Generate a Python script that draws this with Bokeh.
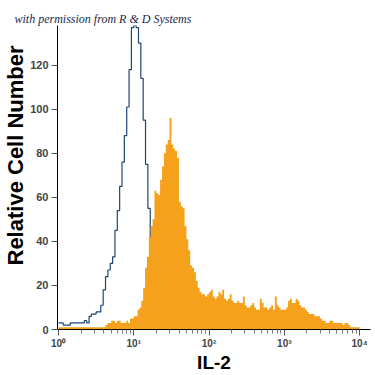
import numpy as np
from bokeh.plotting import figure
from bokeh.models import Range1d, FixedTicker, Title
from bokeh.embed import file_html
from bokeh.resources import INLINE

# ---- data ----
x_ticks = [1, 10, 100, 1000, 10000]
x_tick_labels = ["10⁰", "10¹", "10²", "10³", "10⁴"]
y_ticks = [0, 20, 40, 60, 80, 100, 120]

# isotype control histogram (outline), bins of 1/32 decade starting at 10^0
control_bins_per_decade = 32
control_counts = [3, 3, 2, 2, 2, 3, 3, 3, 3, 3, 3, 4, 3, 6, 7, 7, 8, 8, 11, 18,
                  24, 27, 30, 33, 45, 54, 65, 76, 88, 101, 118, 137, 138, 137, 130, 114, 95, 75, 55, 38,
                  25, 15, 8, 4, 2, 1]

# IL-2 stained histogram (filled), bins of 1/40 decade starting at 10^0
il2_bins_per_decade = 40
il2_counts = [1, 1, 1, 1, 1, 1, 1, 1, 1, 1, 1, 1, 1, 1, 1, 1, 1, 1,
              1, 1, 1, 1, 1, 1, 1, 2,
              3, 3, 4, 4, 3, 4, 4,
              3, 3, 3, 4, 3,
              5, 5, 6,
              6, 9, 10, 13, 19, 28, 33, 42, 47,
              50, 63, 62, 61, 68, 74, 80, 84, 86, 96,
              84, 82, 81, 78, 58, 56, 55, 47, 41, 36,
              29, 28, 26, 22, 19, 17, 16, 16, 15, 16,
              17, 18, 15, 14, 15, 17, 16, 18, 14, 13,
              14, 16, 13, 12, 12, 13, 12, 12, 15, 11,
              10, 10, 11, 12, 10, 9, 9, 14, 12, 10,
              10, 9, 10, 11, 9, 15, 11, 10, 9, 9,
              9, 10, 13, 14, 12, 12, 14, 13, 11, 10,
              10, 9, 8, 7, 7, 7, 6, 6, 6, 5,
              4, 4, 3, 3, 4, 4, 3, 3, 3, 3,
              3, 2, 3, 3, 2, 1, 1, 1, 1, 1]

x_title = "IL-2"
y_title = "Relative Cell Number"
watermark = "with permission from R & D Systems"


def step_xy(counts, per_decade):
    edges = 10 ** (np.arange(len(counts) + 1) / per_decade)
    xs = np.repeat(edges, 2)[1:-1]
    ys = np.repeat(np.asarray(counts, dtype=float), 2)
    return edges, xs, ys


c_edges, c_x, c_y = step_xy(control_counts, control_bins_per_decade)
c_x = np.append(c_x, [c_edges[-1], c_edges[-1] * 10])
c_y = np.append(c_y, [0, 0])

i_edges, i_x, i_y = step_xy(il2_counts, il2_bins_per_decade)

# ---- figure ----
p = figure(width=375, height=375, x_axis_type="log",
           output_backend="svg", toolbar_location=None,
           x_range=Range1d(10 ** -0.0132, 10 ** 4.145), y_range=Range1d(0, 138),
           min_border_left=55, min_border_right=5, min_border_top=25, min_border_bottom=46)
p.outline_line_color = None
p.grid.grid_line_color = None
p.background_fill_color = "white"
p.border_fill_color = "white"

p.line(c_x, c_y, line_color="#1d4673", line_width=1.2)
p.varea(x=i_x, y1=0, y2=i_y, fill_color="#f6a11c", fill_alpha=1.0)

# axes
minor = [m * d for d in [1, 10, 100, 1000] for m in range(2, 10)]
xa = p.xaxis[0]
xa.ticker = FixedTicker(ticks=x_ticks, minor_ticks=minor)
xa.major_label_overrides = {t: l for t, l in zip(x_ticks, x_tick_labels)}
xa.major_label_text_font = "Liberation Sans"
xa.major_label_text_font_style = "bold"
xa.major_label_text_font_size = "10px"
xa.major_label_standoff = 2
xa.major_tick_out = 6
xa.major_tick_in = 0
xa.minor_tick_out = 4
xa.minor_tick_in = 0
xa.axis_line_color = "black"
xa.major_tick_line_color = "#555555"
xa.minor_tick_line_color = "#777777"
xa.axis_label = x_title
xa.axis_label_text_font = "Liberation Sans"
xa.axis_label_text_font_style = "bold"
xa.axis_label_text_font_size = "19px"
xa.axis_label_standoff = 0
xa.axis_label_text_color = "black"

ya = p.yaxis[0]
ya.ticker = FixedTicker(ticks=y_ticks)
ya.major_label_text_font = "Liberation Sans"
ya.major_label_text_font_style = "bold"
ya.major_label_text_font_size = "11px"
ya.major_label_standoff = 3
ya.major_tick_out = 6
ya.major_tick_in = 0
ya.minor_tick_line_color = None
ya.axis_line_color = "black"
ya.major_tick_line_color = "#555555"

# y title as a side title (sits a little above centre as in the original)
p.add_layout(Title(text=y_title, align="left", offset=64, standoff=0,
                   text_font="Liberation Sans", text_font_style="bold",
                   text_font_size="22px", text_color="black"), "left")

# watermark as the plot title
p.title.text = watermark
p.title.align = "left"
p.title.offset = -43
p.title.standoff = 0
p.title.text_font = "Liberation Serif"
p.title.text_font_style = "italic"
p.title.text_font_size = "12px"
p.title.text_color = "#1a2850"

open("out.html", "w").write(file_html(p, INLINE))
